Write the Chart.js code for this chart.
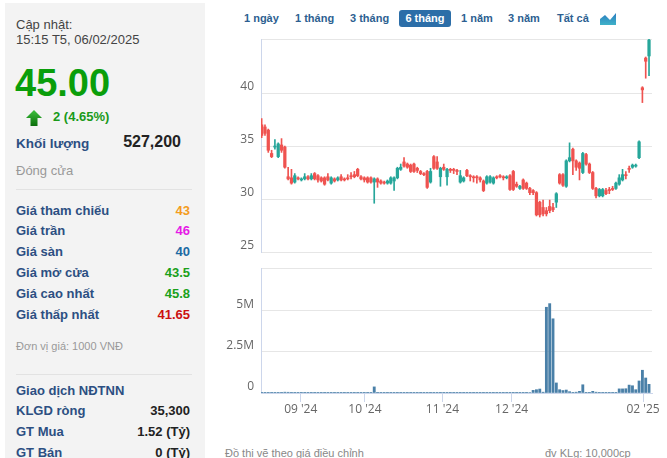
<!DOCTYPE html>
<html>
<head>
<meta charset="utf-8">
<script src="https://cdn.jsdelivr.net/npm/chart.js@4.4.1/dist/chart.umd.min.js"></script>
<style>
  body { margin: 0; width: 667px; height: 458px; overflow: hidden; background: #fff; position: relative;
         font-family: Arial, "Liberation Sans", sans-serif; }
  #side { position: absolute; left: 5px; top: 3px; width: 200px; height: 460px; background: #f3f3f3; }
  .t { position: absolute; white-space: nowrap; line-height: 16px; }
  .lbl { left: 16px; font-size: 13px; font-weight: bold; color: #2c4f82; }
  .val { left: 0; width: 190px; text-align: right; font-size: 13px; font-weight: bold; color: #222; }
  .sep { position: absolute; left: 16px; width: 176px; height: 1px; background: #e2e2e2; }
  .btn { position: absolute; top: 10px; line-height: 17px; font-size: 11px; font-weight: bold; color: #2d5f91; white-space: nowrap; }
  .foot { position: absolute; top: 445px; font-size: 11px; color: #888; line-height: 16px; white-space: nowrap; }
  canvas { position: absolute; }
</style>
</head>
<body>
<div id="side"></div>
<div class="t" style="left:16px;top:17px;font-size:13px;color:#444">Cập nhật:</div>
<div class="t" style="left:16px;top:32px;font-size:13px;color:#444">15:15 T5, 06/02/2025</div>
<div class="t" style="left:15px;top:64px;font-size:38px;line-height:38px;font-weight:bold;color:#0a9e0a">45.00</div>
<svg style="position:absolute;left:25px;top:109px" width="18" height="18">
  <defs><linearGradient id="ga" x1="0" y1="0" x2="0" y2="1">
    <stop offset="0" stop-color="#3cc23c"/><stop offset="1" stop-color="#0b6e0b"/></linearGradient></defs>
  <polygon points="9,1 17,9 12.5,9 12.5,17 5.5,17 5.5,9 1,9" fill="url(#ga)"/>
</svg>
<div class="t" style="left:53px;top:109px;font-size:13px;font-weight:bold;color:#1a9a1a">2 (4.65%)</div>
<div class="t lbl" style="top:136px;font-size:13.5px">Khối lượng</div>
<div class="t" style="left:0;width:181px;text-align:right;top:134px;font-size:16px;font-weight:bold;color:#222">527,200</div>
<div class="t" style="left:16px;top:163px;font-size:13px;color:#999">Đóng cửa</div>
<div class="sep" style="top:189px"></div>

<div class="t lbl" style="top:203px">Giá tham chiếu</div>
<div class="t val" style="top:203px;color:#f39c1e">43</div>
<div class="t lbl" style="top:223px">Giá trần</div>
<div class="t val" style="top:223px;color:#e619e6">46</div>
<div class="t lbl" style="top:244px">Giá sàn</div>
<div class="t val" style="top:244px;color:#1c6aa3">40</div>
<div class="t lbl" style="top:265px">Giá mở cửa</div>
<div class="t val" style="top:265px;color:#1aa01a">43.5</div>
<div class="t lbl" style="top:286px">Giá cao nhất</div>
<div class="t val" style="top:286px;color:#1aa01a">45.8</div>
<div class="t lbl" style="top:307px">Giá thấp nhất</div>
<div class="t val" style="top:307px;color:#cc1010">41.65</div>
<div class="t" style="left:16px;top:338px;font-size:11px;color:#999">Đơn vị giá: 1000 VNĐ</div>
<div class="sep" style="top:374px"></div>
<div class="t lbl" style="top:383px">Giao dịch NĐTNN</div>
<div class="t lbl" style="top:403px">KLGD ròng</div>
<div class="t val" style="top:403px">35,300</div>
<div class="t lbl" style="top:424px">GT Mua</div>
<div class="t val" style="top:424px">1.52 (Tỷ)</div>
<div class="t lbl" style="top:445px">GT Bán</div>
<div class="t val" style="top:445px">0 (Tỷ)</div>

<div class="btn" style="left:244px">1 ngày</div>
<div class="btn" style="left:295px">1 tháng</div>
<div class="btn" style="left:350px">3 tháng</div>
<div class="btn" style="left:399px;width:52px;height:17px;text-align:center;background:#2c6ea8;color:#fff;border-radius:3px">6 tháng</div>
<div class="btn" style="left:461px">1 năm</div>
<div class="btn" style="left:508px">3 năm</div>
<div class="btn" style="left:557px">Tất cả</div>
<svg style="position:absolute;left:600px;top:12px" width="17" height="14">
  <defs><linearGradient id="gi" x1="0" y1="0" x2="0" y2="1">
    <stop offset="0" stop-color="#2b7bc0"/><stop offset="1" stop-color="#3fb2c8"/></linearGradient></defs>
  <polygon points="0,13 0,7 5,3 10,8 16,1 16,13" fill="url(#gi)"/>
</svg>

<div class="foot" style="left:225px">Đồ thị vẽ theo giá điều chỉnh</div>
<div class="foot" style="left:545px">đv KLg: 10,000cp</div>

<canvas id="price" width="447" height="245" style="left:220px;top:23px"></canvas>
<canvas id="volume" width="447" height="206" style="left:220px;top:252px"></canvas>

<script>
// daily candles, oldest first (6 months of trading days)
var opens = [37.0,36.8,36.5,34.3,34.9,34.0,35.1,34.9,32.1,32.0,
  31.6,32.0,31.8,31.9,32.1,31.9,32.4,32.2,32.0,32.0,
  32.1,31.5,31.9,31.8,32.1,31.9,32.0,32.2,32.3,32.8,
  32.1,32.0,32.0,32.0,31.6,31.9,31.7,31.6,31.5,31.5,
  31.7,32.0,32.8,33.5,33.3,33.2,33.3,32.9,32.6,32.4,
  32.6,31.6,34.0,33.5,32.1,33.0,32.1,32.8,32.8,32.7,
  31.6,31.7,32.7,32.2,32.1,32.1,32.0,31.7,31.5,31.6,
  31.5,32.1,32.2,32.1,32.0,32.2,32.6,31.4,31.0,31.8,
  31.5,31.0,30.8,30.6,29.7,29.2,28.9,29.3,29.2,29.7,
  32.3,32.3,31.2,33.6,34.7,33.6,33.4,32.5,34.2,33.3,
  32.5,31.0,30.3,30.3,30.8,30.9,31.0,31.0,31.4,31.8,
  32.3,32.9,33.0,33.1,33.9,40.5,43.3,43.5];
var closes = [36.0,36.2,34.6,34.0,35.0,35.2,34.6,33.0,31.9,31.5,
  32.2,31.9,31.9,32.1,31.9,32.2,31.9,31.8,31.7,31.4,
  31.8,32.0,31.7,32.0,31.8,31.8,31.9,32.1,32.1,32.2,
  31.9,31.8,31.6,31.6,31.9,31.6,31.5,31.5,31.7,32.0,
  32.0,32.9,33.0,33.1,33.0,32.6,32.6,32.7,32.4,32.3,
  31.1,32.6,32.9,32.9,32.9,32.8,32.8,32.7,32.7,32.6,
  32.2,32.0,32.2,32.1,32.0,32.0,31.8,30.8,32.1,32.1,
  32.0,32.0,32.1,32.0,32.1,30.9,30.9,31.2,31.2,31.0,
  31.0,30.6,30.6,28.5,28.5,28.6,28.6,28.9,29.0,30.5,
  31.5,31.3,33.6,33.9,33.6,33.0,32.9,34.3,33.3,32.5,
  31.0,30.3,30.9,30.9,30.5,30.8,30.9,31.5,32.0,32.3,
  32.2,32.8,33.2,33.2,35.4,40.3,43.0,45.0];
var highs = [37.6,37.0,36.6,34.6,35.6,35.3,35.7,35.0,33.0,32.8,
  32.4,32.1,32.0,32.4,32.2,32.4,32.5,32.3,32.1,32.1,
  32.4,32.1,32.0,32.1,32.3,32.0,32.3,32.5,32.6,32.9,
  32.2,32.1,32.1,32.1,32.0,32.0,31.8,31.7,31.8,32.1,
  32.1,33.0,33.3,33.9,33.4,33.3,33.4,33.0,32.7,32.5,
  32.7,32.9,34.1,34.0,33.0,33.3,32.9,32.9,32.9,32.8,
  32.7,32.1,32.8,32.3,32.2,32.2,32.1,31.8,32.2,32.2,
  32.1,32.2,32.3,32.2,32.2,32.3,32.7,31.6,31.3,31.9,
  31.6,31.1,30.9,30.7,29.8,29.9,29.2,29.9,29.6,30.6,
  32.4,32.4,33.7,35.3,34.8,33.7,33.5,34.4,34.3,33.4,
  32.6,31.1,31.0,31.0,31.0,31.1,31.2,31.6,32.3,32.8,
  32.6,33.1,33.3,33.3,35.5,40.6,43.4,45.8];
var lows = [35.8,36.0,34.4,33.9,34.7,33.9,34.4,32.9,31.8,31.4,
  31.5,31.8,31.7,31.8,31.8,31.8,31.8,31.6,31.6,31.3,
  31.7,31.4,31.6,31.7,31.7,31.7,31.8,31.9,32.0,32.1,
  31.8,31.6,31.5,31.5,29.6,31.1,31.4,31.4,31.4,31.4,
  30.8,31.9,32.7,33.0,32.9,32.5,32.5,32.5,32.3,32.2,
  31.0,31.5,32.8,32.8,31.2,32.7,31.3,32.5,32.4,32.3,
  31.5,31.6,32.1,31.7,31.6,31.5,31.6,30.7,31.4,31.5,
  31.4,31.9,32.0,31.8,31.9,30.8,30.8,31.1,30.9,30.9,
  30.9,30.4,30.4,28.4,28.3,28.4,28.4,28.7,28.8,29.2,
  31.4,31.2,31.1,33.5,32.3,32.7,31.8,32.4,33.2,32.4,
  30.9,30.1,30.2,30.2,30.4,30.5,30.8,30.9,31.3,31.7,
  31.9,32.5,32.9,33.0,33.8,39.1,41.4,41.65];
var volumes = [10000,8000,40000,12000,9000,7000,15000,50000,45000,12000,
  8000,6000,5000,7000,6000,5000,8000,6000,5000,7000,
  6000,8000,5000,4000,6000,5000,4000,7000,6000,9000,
  5000,6000,7000,8000,370000,20000,6000,5000,4000,7000,
  9000,10000,8000,12000,7000,6000,8000,5000,6000,5000,
  9000,8000,10000,7000,8000,5000,7000,4000,5000,6000,
  5000,6000,7000,5000,4000,5000,6000,9000,7000,6000,
  5000,4000,5000,6000,4000,10000,12000,8000,6000,9000,
  7000,30000,160000,200000,240000,50000,5200000,5420000,4500000,610000,
  200000,150000,180000,80000,20000,50000,100000,500000,20000,15000,
  100000,50000,12000,10000,15000,12000,20000,15000,250000,250000,
  260000,480000,440000,200000,730000,1380000,910000,527200];

var priceTicks = [25, 30, 35, 40];
var priceMax = 45.1;
var volumeTicks = [0, 2500000, 5000000];
var volumeMax = 7580000;
// month ticks, in trading-day positions
var monthTickPos = [11.8, 31.2, 54.6, 75.5, 115.2];
var monthTickLabels = ["09 '24", "10 '24", "11 '24", "12 '24", "02 '25"];

(function() {
  "use strict";

  var UP = '#26a69a', DOWN = '#ef5350';
  var candleColors = opens.map(function(o, i) { return closes[i] >= o ? UP : DOWN; });
  var tickFont = { family: '"Open Sans", Arial, sans-serif', size: 12 };
  var xMin = -0.2, xMax = 117.9;

  function axisWidth(s) { s.width = 41; }

  new Chart(document.getElementById('price'), {
    type: 'bar',
    data: {
      datasets: [
        {
          data: opens.map(function(o, i) { return { x: i, y: [o, closes[i]] }; }),
          backgroundColor: candleColors,
          barThickness: 2.6,
          minBarLength: 1,
          grouped: false
        },
        {
          data: lows.map(function(l, i) { return { x: i, y: [l, highs[i]] }; }),
          backgroundColor: candleColors,
          barThickness: 1,
          grouped: false
        }
      ]
    },
    options: {
      responsive: false,
      animation: false,
      devicePixelRatio: 1,
      layout: { padding: { top: 16, bottom: 16, left: 0, right: 15 } },
      plugins: { legend: { display: false }, tooltip: { enabled: false } },
      scales: {
        x: { type: 'linear', display: false, min: xMin, max: xMax, offset: false },
        y: {
          min: 25, max: priceMax, beginAtZero: false,
          afterFit: axisWidth,
          afterBuildTicks: function(s) {
            s.ticks = priceTicks.concat([priceMax]).map(function(v) { return { value: v }; });
          },
          ticks: {
            callback: function(v) { return priceTicks.indexOf(v) >= 0 ? String(v) : ''; },
            color: '#666', font: tickFont, padding: 7, labelOffset: -6
          },
          grid: { color: '#e6e6e6', drawTicks: false },
          border: { color: '#ccd6eb' }
        }
      }
    }
  });

  new Chart(document.getElementById('volume'), {
    type: 'bar',
    data: {
      datasets: [{
        data: volumes.map(function(v, i) { return { x: i, y: v }; }),
        backgroundColor: '#4a80a8',
        barThickness: 2.2
      }]
    },
    options: {
      responsive: false,
      animation: false,
      devicePixelRatio: 1,
      layout: { padding: { top: 16, bottom: 34, left: 0, right: 15 } },
      plugins: { legend: { display: false }, tooltip: { enabled: false } },
      scales: {
        x: {
          type: 'linear', min: xMin, max: xMax, offset: false,
          afterBuildTicks: function(s) {
            s.ticks = monthTickPos.map(function(v) { return { value: v }; });
          },
          afterFit: function(s) { s.height = 31; },
          ticks: {
            callback: function(v, i) { return monthTickLabels[i]; },
            autoSkip: false, maxRotation: 0, color: '#666', font: tickFont, padding: 0
          },
          grid: { drawOnChartArea: false, drawTicks: true, tickLength: 9, color: '#ccd6eb', offset: false },
          border: { color: '#ccd6eb' }
        },
        y: {
          min: 0, max: volumeMax,
          afterFit: axisWidth,
          afterBuildTicks: function(s) {
            s.ticks = volumeTicks.concat([volumeMax]).map(function(v) { return { value: v }; });
          },
          ticks: {
            callback: function(v) {
              if (volumeTicks.indexOf(v) < 0) return '';
              return v === 0 ? '0' : (v / 1000000) + 'M';
            },
            color: '#666', font: tickFont, padding: 7, labelOffset: -6
          },
          grid: { color: '#e6e6e6', drawTicks: false },
          border: { color: '#ccd6eb' }
        }
      }
    }
  });

})();
</script>
</body>
</html>
